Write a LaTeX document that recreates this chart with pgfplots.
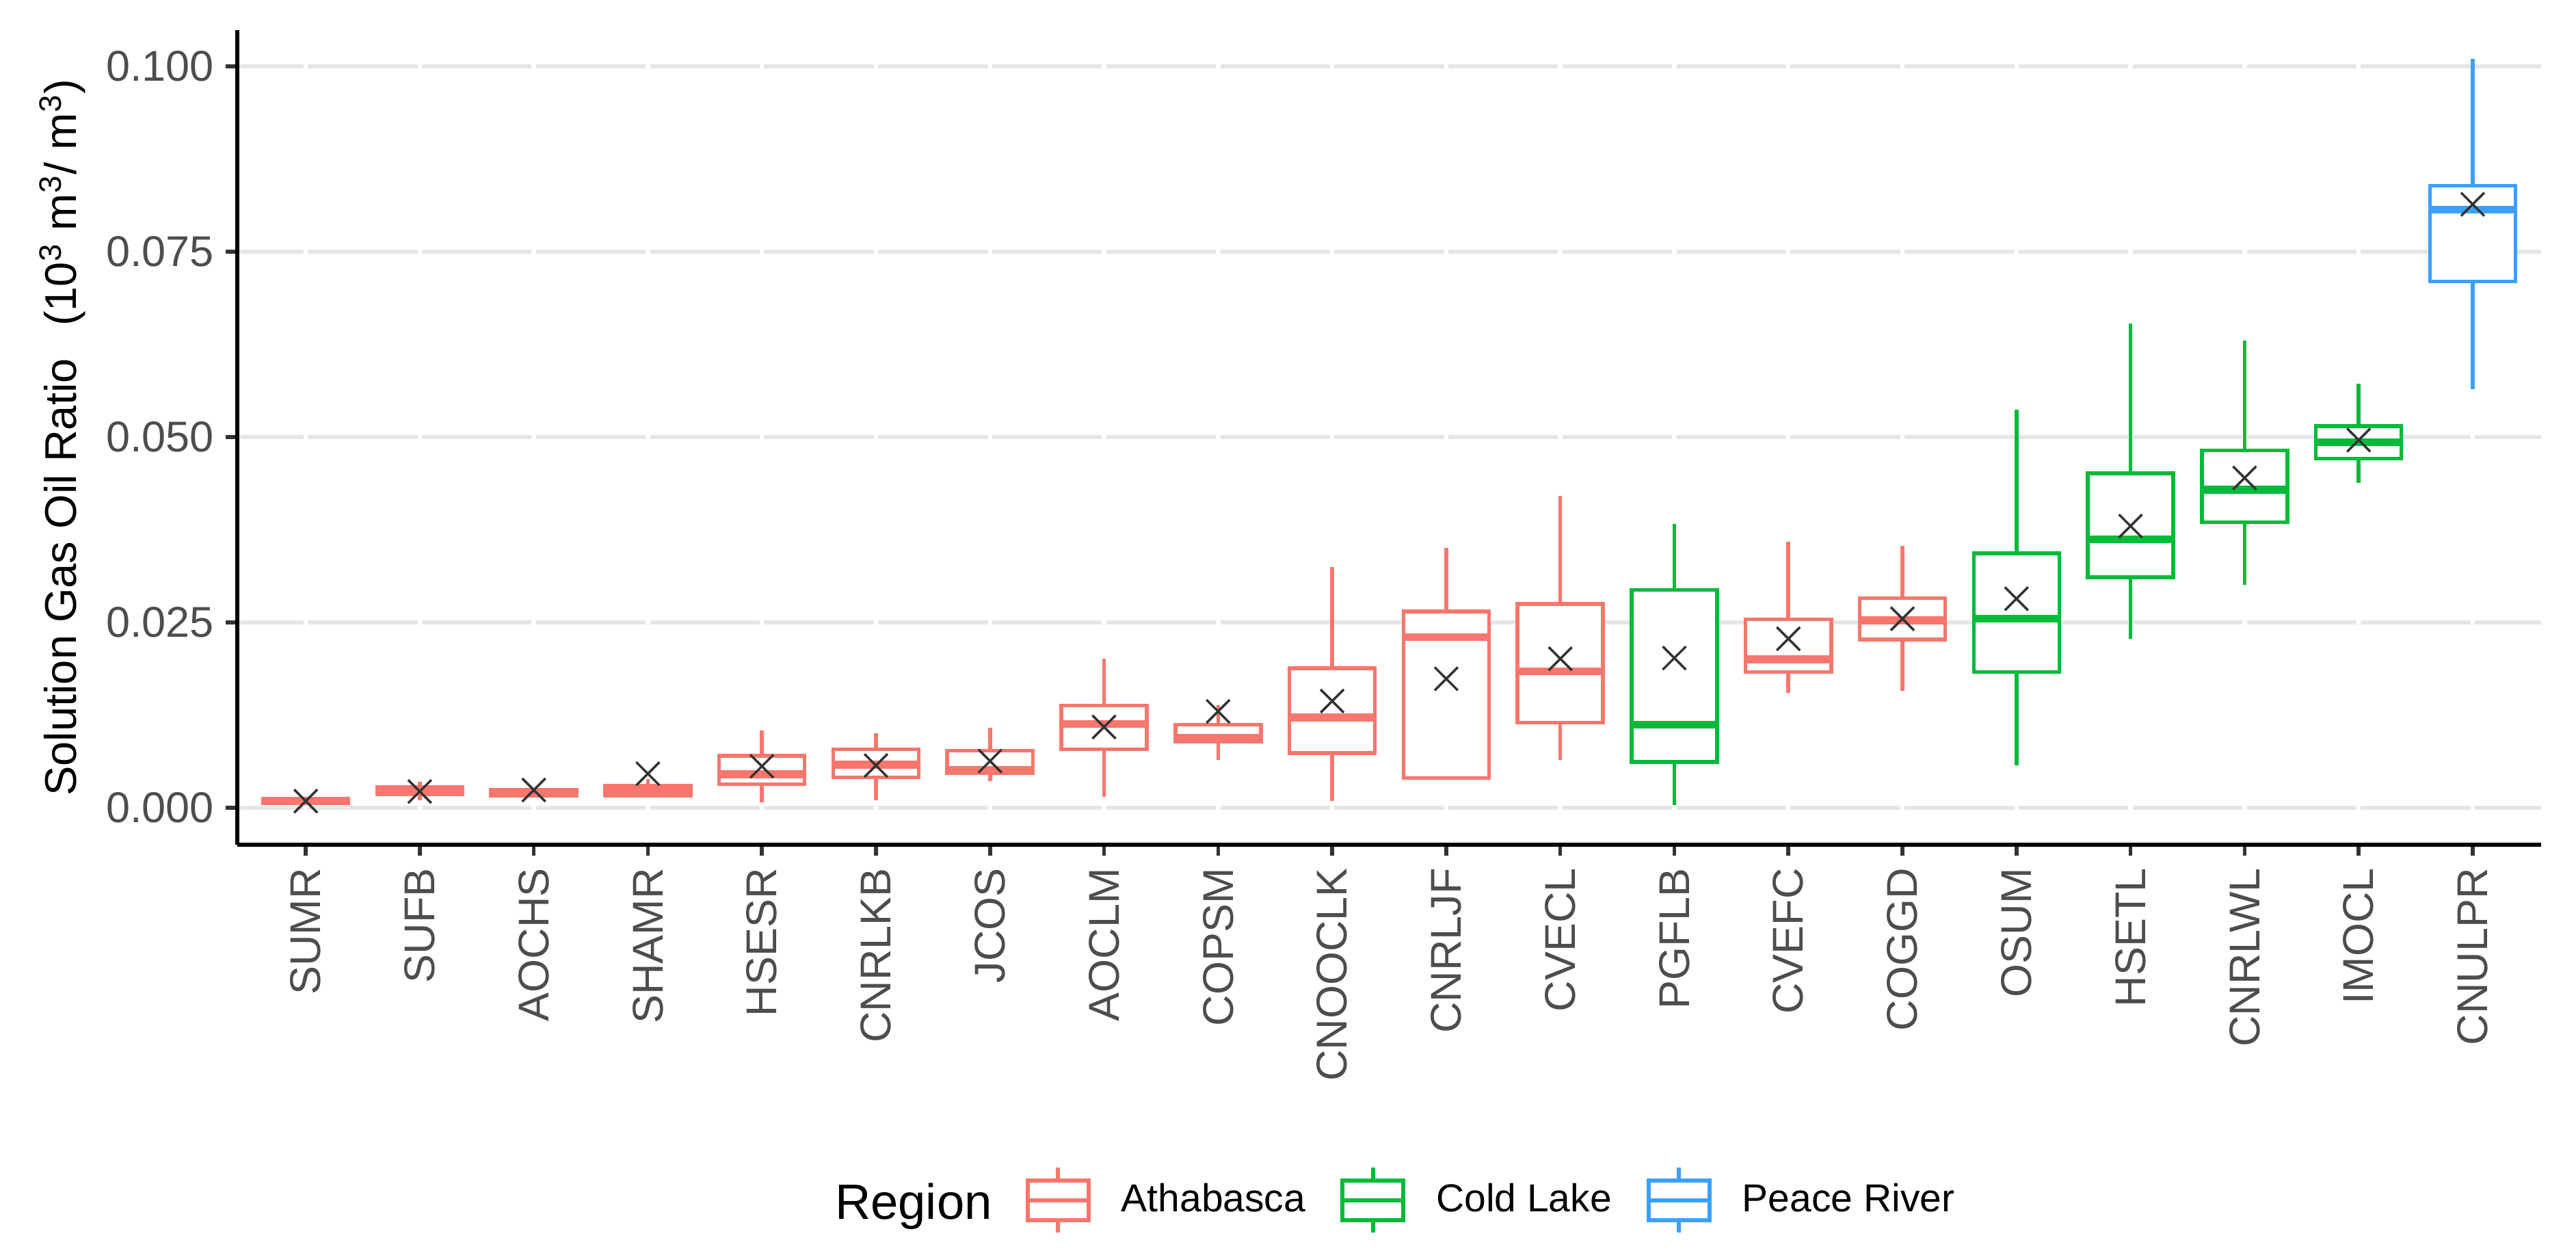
\documentclass[border=0pt]{standalone}
\usepackage{pgfplots}
\pgfplotsset{compat=1.18}
\usepgfplotslibrary{statistics}
\usepackage{fontspec}
\setmainfont{Liberation Sans}

\definecolor{cA}{HTML}{F8766D}
\definecolor{cC}{HTML}{00BA38}
\definecolor{cP}{HTML}{3AA0FF}
\definecolor{tc}{HTML}{4D4D4D}
\definecolor{gr}{HTML}{E6E6E6}
\definecolor{dk}{HTML}{333333}

\pgfplotsset{
  bx/.style={draw=#1, fill=white, line width=1.1pt, line join=miter,
    boxplot/draw direction=y,
    boxplot/box extend=0.75, boxplot/whisker extend=0,
    boxplot/every median/.style={line width=2.3pt}},
  key/.style={draw=#1, legend image code/.code={
    \draw[line width=1.2pt] (0pt,5.8pt) -- (0pt,9.5pt);
    \draw[line width=1.2pt] (0pt,-5.8pt) -- (0pt,-9.5pt);
    \draw[line width=1.2pt, fill=white] (-8.9pt,-5.8pt) rectangle (8.9pt,5.8pt);
    \draw[line width=1.2pt] (-8.9pt,0pt) -- (8.9pt,0pt);}},
}

\begin{document}
\begin{tikzpicture}
\useasboundingbox (-69.4pt,-118.8pt) rectangle (684pt,247pt);
\begin{axis}[
  scale only axis,
  width=673.8pt, height=238.2pt,
  xmin=-0.6, xmax=19.6,
  ymin=-0.00498, ymax=0.1049,
  axis x line*=bottom, axis y line*=left,
  axis line style={line width=1.2pt, black},
  tick align=outside,
  major tick length=3.3pt,
  tick style={line width=1.1pt, dk},
  xtick={0,...,19},
  xticklabels={SUMR,SUFB,AOCHS,SHAMR,HSESR,CNRLKB,JCOS,AOCLM,COPSM,CNOOCLK,CNRLJF,CVECL,PGFLB,CVEFC,COGGD,OSUM,HSETL,CNRLWL,IMOCL,CNULPR},
  xticklabel style={rotate=90, anchor=east, text=tc, font=\fontsize{12.6}{15}\selectfont},
  ytick={0,0.025,0.05,0.075,0.1},
  scaled y ticks=false,
  yticklabel style={text=tc, font=\fontsize{12.6}{15}\selectfont,
    /pgf/number format/.cd, fixed, fixed zerofill, precision=3, assume math mode=true},
  ymajorgrids,
  major grid style={gr, line width=1.1pt},
  ylabel={Solution Gas Oil Ratio\hspace{0.45em} (10\textsuperscript{3} m\textsuperscript{3}/ m\textsuperscript{3})},
  ylabel style={at={(axis description cs:-0.0700,0.5)}, anchor=base, font=\fontsize{13}{15}\selectfont},
  legend columns=-1,
  legend style={draw=none, fill=none, inner sep=0pt, outer sep=0pt,
    at={(axis description cs:0.3422,-0.4366)}, anchor=west,
    font=\fontsize{11.4}{14}\selectfont,
    nodes={inner sep=0pt},
    /tikz/every odd column/.append style={column sep=9pt},
    /tikz/every even column/.append style={column sep=10.2pt}},
]
% white gaps in the grid at each category
\addplot[white, line width=1.3pt, forget plot, unbounded coords=jump] coordinates {
  (0,-0.002) (0,0.102) (0,nan) (1,-0.002) (1,0.102) (1,nan)
  (2,-0.002) (2,0.102) (2,nan) (3,-0.002) (3,0.102) (3,nan)
  (4,-0.002) (4,0.102) (4,nan) (5,-0.002) (5,0.102) (5,nan)
  (6,-0.002) (6,0.102) (6,nan) (7,-0.002) (7,0.102) (7,nan)
  (8,-0.002) (8,0.102) (8,nan) (9,-0.002) (9,0.102) (9,nan)
  (10,-0.002) (10,0.102) (10,nan) (11,-0.002) (11,0.102) (11,nan)
  (12,-0.002) (12,0.102) (12,nan) (13,-0.002) (13,0.102) (13,nan)
  (14,-0.002) (14,0.102) (14,nan) (15,-0.002) (15,0.102) (15,nan)
  (16,-0.002) (16,0.102) (16,nan) (17,-0.002) (17,0.102) (17,nan)
  (18,-0.002) (18,0.102) (18,nan) (19,-0.002) (19,0.102)
};

% Athabasca
\addplot[bx=cA, forget plot, boxplot prepared={draw position=0, lower whisker=0.0005, lower quartile=0.0006, median=0.0009, upper quartile=0.0012, upper whisker=0.0013}] coordinates {};
\addplot[bx=cA, forget plot, boxplot prepared={draw position=1, lower whisker=0.0010, lower quartile=0.0018, median=0.0023, upper quartile=0.0028, upper whisker=0.0035}] coordinates {};
\addplot[bx=cA, forget plot, boxplot prepared={draw position=2, lower whisker=0.0015, lower quartile=0.0016, median=0.0020, upper quartile=0.0024, upper whisker=0.0025}] coordinates {};
\addplot[bx=cA, forget plot, boxplot prepared={draw position=3, lower whisker=0.0015, lower quartile=0.0016, median=0.0022, upper quartile=0.0030, upper whisker=0.0039}] coordinates {};
\addplot[bx=cA, forget plot, boxplot prepared={draw position=4, lower whisker=0.0007, lower quartile=0.0032, median=0.0045, upper quartile=0.0070, upper whisker=0.0104}] coordinates {};
\addplot[bx=cA, forget plot, boxplot prepared={draw position=5, lower whisker=0.0010, lower quartile=0.0041, median=0.0058, upper quartile=0.0079, upper whisker=0.0101}] coordinates {};
\addplot[bx=cA, forget plot, boxplot prepared={draw position=6, lower whisker=0.0036, lower quartile=0.0047, median=0.0051, upper quartile=0.0077, upper whisker=0.0108}] coordinates {};
\addplot[bx=cA, forget plot, boxplot prepared={draw position=7, lower whisker=0.0015, lower quartile=0.0079, median=0.0113, upper quartile=0.0138, upper whisker=0.0201}] coordinates {};
\addplot[bx=cA, forget plot, boxplot prepared={draw position=8, lower whisker=0.0065, lower quartile=0.0089, median=0.0094, upper quartile=0.0112, upper whisker=0.0138}] coordinates {};
\addplot[bx=cA, forget plot, boxplot prepared={draw position=9, lower whisker=0.0009, lower quartile=0.0074, median=0.0122, upper quartile=0.0188, upper whisker=0.0325}] coordinates {};
\addplot[bx=cA, forget plot, boxplot prepared={draw position=10, lower whisker=0.0040, lower quartile=0.0040, median=0.0230, upper quartile=0.0265, upper whisker=0.0351}] coordinates {};
\addplot[bx=cA, forget plot, boxplot prepared={draw position=11, lower whisker=0.0065, lower quartile=0.0115, median=0.0184, upper quartile=0.0275, upper whisker=0.0421}] coordinates {};
\addplot[bx=cA, forget plot, boxplot prepared={draw position=13, lower whisker=0.0155, lower quartile=0.0183, median=0.0200, upper quartile=0.0254, upper whisker=0.0359}] coordinates {};
\addplot[bx=cA, forget plot, boxplot prepared={draw position=14, lower whisker=0.0158, lower quartile=0.0227, median=0.0253, upper quartile=0.0283, upper whisker=0.0353}] coordinates {};
% Cold Lake
\addplot[bx=cC, forget plot, boxplot prepared={draw position=12, lower whisker=0.0004, lower quartile=0.0062, median=0.0112, upper quartile=0.0294, upper whisker=0.0383}] coordinates {};
\addplot[bx=cC, forget plot, boxplot prepared={draw position=15, lower whisker=0.0057, lower quartile=0.0183, median=0.0255, upper quartile=0.0343, upper whisker=0.0537}] coordinates {};
\addplot[bx=cC, forget plot, boxplot prepared={draw position=16, lower whisker=0.0228, lower quartile=0.0311, median=0.0362, upper quartile=0.0451, upper whisker=0.0653}] coordinates {};
\addplot[bx=cC, forget plot, boxplot prepared={draw position=17, lower whisker=0.0301, lower quartile=0.0385, median=0.0429, upper quartile=0.0482, upper whisker=0.0630}] coordinates {};
\addplot[bx=cC, forget plot, boxplot prepared={draw position=18, lower whisker=0.0438, lower quartile=0.0471, median=0.0493, upper quartile=0.0515, upper whisker=0.0572}] coordinates {};
% Peace River
\addplot[bx=cP, forget plot, boxplot prepared={draw position=19, lower whisker=0.0565, lower quartile=0.0710, median=0.0807, upper quartile=0.0839, upper whisker=0.1010}] coordinates {};

% means
\addplot[only marks, forget plot, mark=x, mark size=4.8pt, mark options={draw=dk, line width=0.7pt}] coordinates {
  (0,0.0009) (1,0.0022) (2,0.0024) (3,0.0046) (4,0.0056) (5,0.0057)
  (6,0.0063) (7,0.0109) (8,0.0130) (9,0.0144) (10,0.0174) (11,0.0201)
  (12,0.0202) (13,0.0228) (14,0.0255) (15,0.0282) (16,0.0380) (17,0.0445)
  (18,0.0496) (19,0.0814)
};

\addlegendimage{key=cA}\addlegendentry{Athabasca}
\addlegendimage{key=cC}\addlegendentry{Cold Lake}
\addlegendimage{key=cP}\addlegendentry{Peace River}
\end{axis}
\node[anchor=base west, inner sep=0pt, font=\fontsize{14.5}{17}\selectfont] at (174.6pt,-109.6pt) {Region};
\end{tikzpicture}
\end{document}
